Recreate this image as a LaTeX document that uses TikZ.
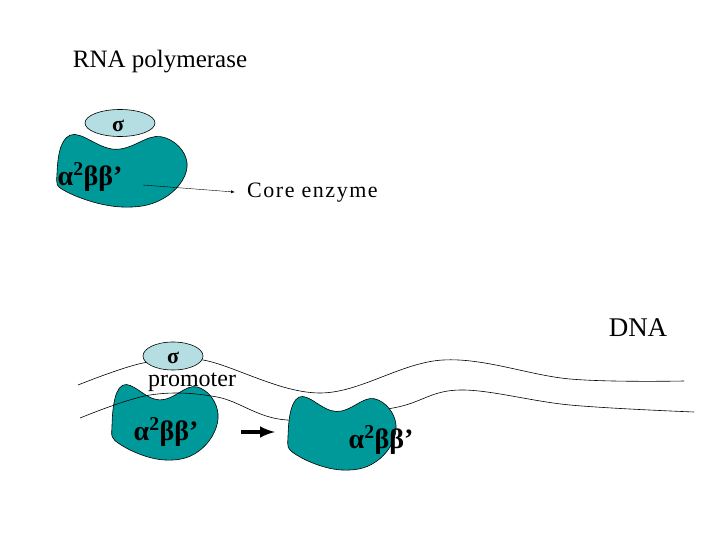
\documentclass[tikz,border=0pt]{standalone}
\usepackage{fontspec}
\setmainfont{Liberation Serif}
\usetikzlibrary{shapes.geometric,arrows}
\begin{document}
\begin{tikzpicture}[x=1pt,y=-1pt]
\definecolor{teal1}{RGB}{0,153,153}
\definecolor{sig}{RGB}{180,222,226}
\tikzset{
 blobst/.style={fill=teal1,draw=black,line width=0.6pt},
 sigst/.style={fill=sig,draw=black,line width=0.6pt,ellipse},
 lbl/.style={font=\bfseries\fontsize{28}{30}\selectfont,inner sep=0},
 sg/.style={font=\bfseries\fontsize{22}{24}\selectfont,inner sep=0},
 txt/.style={font=\fontsize{25}{27}\selectfont,inner sep=0},
 strand/.style={line width=0.6pt}
}
\newcommand{\myblob}[4]{% x0 y0 w h
 \filldraw[blobst] plot[smooth cycle,tension=0.7] coordinates{
 ({#1+0*#3},{#2+0.55*#4}) ({#1+0.1*#3},{#2+0.03*#4}) ({#1+0.45*#3},{#2+0.22*#4})
 ({#1+0.8*#3},{#2+0.05*#4}) ({#1+1*#3},{#2+0.4*#4}) ({#1+0.85*#3},{#2+0.85*#4})
 ({#1+0.5*#3},{#2+1*#4}) ({#1+0.08*#3},{#2+0.8*#4})};}
\useasboundingbox (0,0) rectangle (720,540);
\node[txt] (rna) at (160,62) {RNA polymerase};
\myblob{57}{133}{130}{74}
\node[sigst,minimum width=70,minimum height=27] (s1) at (120,123) {};
\node[sg] at (118,126) {σ};
\node[lbl] (a1) at (90,177) {α\textsuperscript{2}ββ’};
\node[txt,font=\fontsize{22}{24}\selectfont\addfontfeature{LetterSpace=7},anchor=west] (core) at (247,193) {Core enzyme};
\coordinate (c1) at (143,185);
\draw[-latex,shorten >=12pt] (c1) -- (core.west);
\node[font=\fontsize{27}{29}\selectfont,inner sep=0] (dna) at (638,328) {DNA};
\myblob{112}{383}{106}{77}
\draw[strand] plot[smooth,tension=0.6] coordinates{(78,385) (143,363) (203,360) (320,393) (443,360) (570,379) (684,381)};
\draw[strand] plot[smooth,tension=0.6] coordinates{(80,418) (150,395) (217,397) (287,420) (393,408) (460,390) (570,405) (694,412)};
\node[sigst,minimum width=60,minimum height=28] (s2) at (173,356) {};
\node[sg] at (173,358) {σ};
\node[font=\fontsize{24}{26}\selectfont,inner sep=0] (prom) at (192,382) {promoter};
\node[lbl] (a2) at (166,432) {α\textsuperscript{2}ββ’};
\myblob{288}{395}{108}{75}
\node[lbl] (a3) at (381,440) {α\textsuperscript{2}ββ’};
\coordinate (t1) at (241,432);
\coordinate (t2) at (275,432);
\draw[line width=4pt,-latex] (t1) -- (t2);
\end{tikzpicture}
\end{document}
